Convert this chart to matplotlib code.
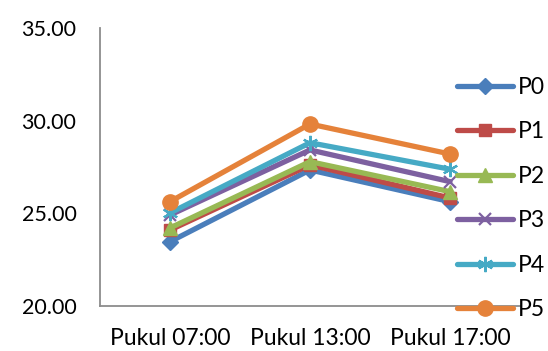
import matplotlib
matplotlib.use("Agg")
import matplotlib.pyplot as plt
from matplotlib.ticker import FormatStrFormatter

# Data
categories = ["Pukul 07:00", "Pukul 13:00", "Pukul 17:00"]
series_names = ["P0", "P1", "P2", "P3", "P4", "P5"]
p0 = [23.47, 27.34, 25.63]
p1 = [24.10, 27.61, 25.83]
p2 = [24.21, 27.79, 26.17]
p3 = [24.91, 28.42, 26.71]
p4 = [25.02, 28.81, 27.38]
p5 = [25.63, 29.82, 28.20]
series_values = [p0, p1, p2, p3, p4, p5]
y_ticks = [20, 25, 30, 35]

colors = ["#4A7EBB", "#BE4B48", "#98B954", "#7D60A0", "#46AAC5", "#E5823A"]
markers = ["D", "s", "^", "x", (6, 2, 0), "o"]
msizes = [8, 9, 10, 9, 11, 11]

plt.rcParams["font.family"] = ["Lato", "DejaVu Sans"]

fig = plt.figure(figsize=(5.48, 3.51), dpi=100)
ax = fig.add_axes([100 / 548, 1 - 306 / 351, 420 / 548, 278 / 351])

x = list(range(len(categories)))
for name, vals, c, m, ms in zip(series_names, series_values, colors, markers, msizes):
    kw = dict(color=c, lw=3.8, marker=m, markersize=ms, label=name,
              solid_capstyle="round")
    if m in ("x", (6, 2, 0)):
        kw.update(markeredgewidth=1.6, markeredgecolor=c)
    else:
        kw.update(markeredgecolor=c, markerfacecolor=c)
    ax.plot(x, vals, **kw)

ax.set_xlim(-0.5, 2.5)
ax.set_ylim(20, 35)
ax.set_xticks(x)
ax.set_xticklabels(categories)
ax.set_yticks(y_ticks)
ax.yaxis.set_major_formatter(FormatStrFormatter("%.2f"))
ax.tick_params(axis="both", length=0, colors="black")
ax.tick_params(axis="y", pad=17, labelsize=15.5)
ax.tick_params(axis="x", pad=16, labelsize=16.5)

for side in ("top", "right"):
    ax.spines[side].set_visible(False)
for side in ("left", "bottom"):
    ax.spines[side].set_color("#8C8C8C")
    ax.spines[side].set_linewidth(1.3)

leg = ax.legend(loc="center left", bbox_to_anchor=(457 / 548, 1 - 198.5 / 351),
                bbox_transform=fig.transFigure, frameon=False, fontsize=16.5,
                handlelength=2.45, handletextpad=0.2, labelspacing=1.02,
                borderpad=0, borderaxespad=0)

fig.savefig("out.png", dpi=100)
